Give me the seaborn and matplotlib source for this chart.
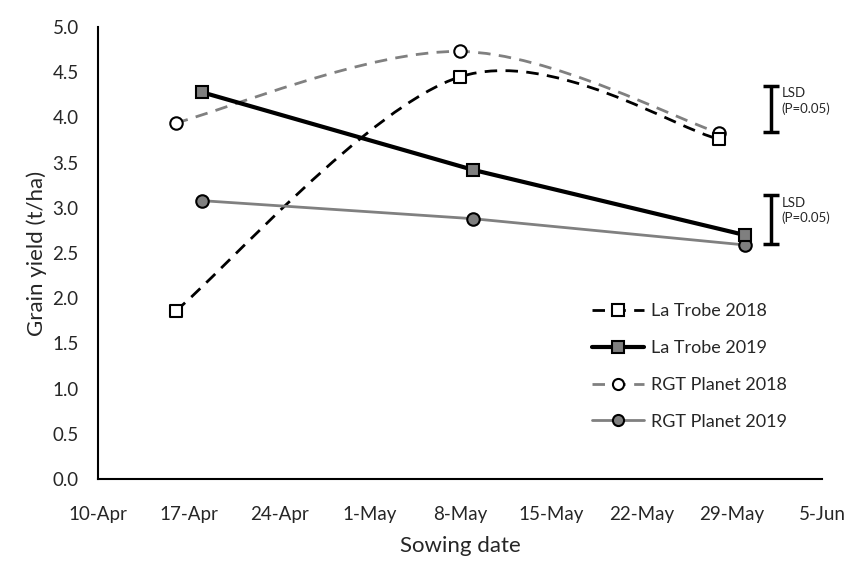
import numpy as np
import pandas as pd
import matplotlib
matplotlib.use("Agg")
import matplotlib.pyplot as plt
import matplotlib.dates as mdates
from matplotlib.path import Path
from matplotlib.patches import PathPatch
from matplotlib.lines import Line2D
import seaborn as sns

# === Data ===
sow_2018 = ["16-Apr", "8-May", "28-May"]
sow_2019 = ["18-Apr", "9-May", "30-May"]
latrobe_2018 = [1.86, 4.45, 3.76]
latrobe_2019 = [4.28, 3.42, 2.70]
rgt_2018 = [3.94, 4.73, 3.83]
rgt_2019 = [3.08, 2.88, 2.59]

lsd_date = "1-Jun"
lsd_2018 = [3.84, 4.35]   # bottom, top of bar
lsd_2019 = [2.60, 3.14]

tick_start, tick_end = "10-Apr", "5-Jun"

def to_date(labels):
    return pd.to_datetime([d + "-2019" for d in labels], format="%d-%b-%Y")

x18 = to_date(sow_2018)
x19 = to_date(sow_2019)

# === Style ===
sns.set_style("white")
plt.rcParams["font.family"] = ["Lato", "DejaVu Sans"]
plt.rcParams["lines.scale_dashes"] = False

GREY = "#808080"
FILL = "#7f7f7f"

fig = plt.figure(figsize=(8.53, 5.63), dpi=100)
ax = fig.add_axes([0.115, 0.149, 0.849, 0.803])


def smooth_path(xd, yv):
    # Excel-style smoothed line: cubic bezier with Catmull-Rom control points
    xs = mdates.date2num(xd)
    pts = np.column_stack([xs, yv])
    n = len(pts)
    verts = [pts[0]]
    codes = [Path.MOVETO]
    for i in range(n - 1):
        p_prev = pts[max(i - 1, 0)]
        p0 = pts[i]
        p1 = pts[i + 1]
        p_next = pts[min(i + 2, n - 1)]
        c1 = p0 + (p1 - p_prev) / 6.0
        c2 = p1 - (p_next - p0) / 6.0
        verts += [c1, c2, p1]
        codes += [Path.CURVE4] * 3
    return Path(verts, codes)


dash = (0, (9, 6))

# 2018 series: smoothed dashed lines
ax.add_patch(PathPatch(smooth_path(x18, rgt_2018), fill=False, edgecolor=GREY,
                       lw=2.0, linestyle=dash, zorder=2, capstyle="butt"))
ax.add_patch(PathPatch(smooth_path(x18, latrobe_2018), fill=False, edgecolor="black",
                       lw=2.0, linestyle=dash, zorder=2, capstyle="butt"))

# 2019 series: straight solid lines
sns.lineplot(x=x19, y=rgt_2019, ax=ax, color=GREY, lw=2.0, marker="o", markersize=9,
             markerfacecolor=FILL, markeredgecolor="black", markeredgewidth=1.5, zorder=3)
sns.lineplot(x=x19, y=latrobe_2019, ax=ax, color="black", lw=3.0, marker="s", markersize=9,
             markerfacecolor=FILL, markeredgecolor="black", markeredgewidth=1.5, zorder=3)

# 2018 markers
sns.scatterplot(x=x18, y=rgt_2018, ax=ax, marker="o", s=80, color="white",
                edgecolor="black", linewidth=1.5, zorder=4)
sns.scatterplot(x=x18, y=latrobe_2018, ax=ax, marker="s", s=80, color="white",
                edgecolor="black", linewidth=1.5, zorder=4)

# LSD bars
xl = to_date([lsd_date])[0]
for lo, hi in [lsd_2018, lsd_2019]:
    ax.errorbar([xl], [(lo + hi) / 2], yerr=[(hi - lo) / 2], fmt="none", ecolor="black",
                elinewidth=2.5, capsize=6, capthick=2.5, zorder=3)
    ax.annotate("LSD\n(P=0.05)", xy=(xl, hi), xytext=(8, -1), textcoords="offset points",
                ha="left", va="top", fontsize=9.5, linespacing=1.3)

# === Axes ===
ax.set_ylim(0, 5)
ax.set_yticks(np.arange(0, 5.01, 0.5))
ax.yaxis.set_major_formatter(plt.FormatStrFormatter("%.1f"))
t0, t1 = to_date([tick_start, tick_end])
ax.set_xlim(t0, t1)
ax.set_xticks(pd.date_range(t0, t1, freq="7D"))
ax.xaxis.set_major_formatter(mdates.DateFormatter("%-d-%b"))
ax.tick_params(axis="x", labelsize=13.5, length=0, pad=19)
ax.tick_params(axis="y", labelsize=13.5, length=0, pad=14)
ax.set_xlabel("Sowing date", fontsize=16, labelpad=10)
ax.set_ylabel("Grain yield (t/ha)", fontsize=16, labelpad=4)
sns.despine(ax=ax)
for s in ["left", "bottom"]:
    ax.spines[s].set_linewidth(1.5)
    ax.spines[s].set_color("black")

# === Legend ===
handles = [
    Line2D([], [], color="black", lw=2.0, linestyle=dash, marker="s", markersize=8,
           markerfacecolor="white", markeredgecolor="black", markeredgewidth=1.5),
    Line2D([], [], color="black", lw=3.0, marker="s", markersize=8,
           markerfacecolor=FILL, markeredgecolor="black", markeredgewidth=1.5),
    Line2D([], [], color=GREY, lw=2.0, linestyle=dash, marker="o", markersize=8,
           markerfacecolor="white", markeredgecolor="black", markeredgewidth=1.5),
    Line2D([], [], color=GREY, lw=2.0, marker="o", markersize=8,
           markerfacecolor=FILL, markeredgecolor="black", markeredgewidth=1.5),
]
labels = ["La Trobe 2018", "La Trobe 2019", "RGT Planet 2018", "RGT Planet 2019"]
ax.legend(handles, labels, loc="upper left", bbox_to_anchor=(0.675, 0.49),
          bbox_transform=fig.transFigure, frameon=False, fontsize=13,
          handlelength=2.9, labelspacing=1.15, handletextpad=0.35)

fig.savefig("out.png", dpi=100)
